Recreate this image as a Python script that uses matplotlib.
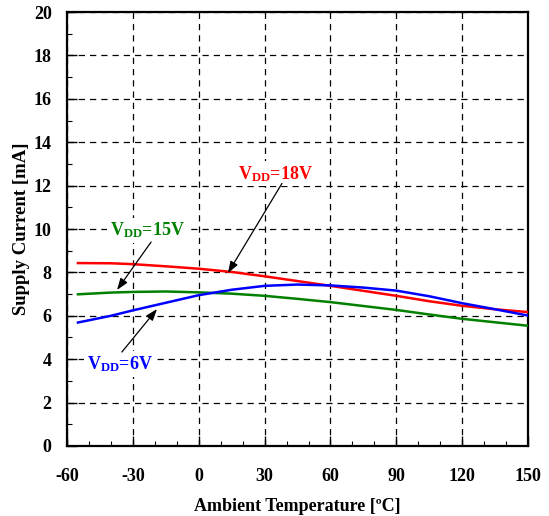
import numpy as np
import matplotlib.pyplot as plt
from matplotlib.ticker import MultipleLocator

# temperature [degC] and supply current [mA]
temp = [-55, -40, -30, -15, 0, 15, 30, 45, 60, 75, 90, 105, 120, 135, 150]
i_18v = [8.43, 8.42, 8.38, 8.28, 8.17, 8.02, 7.82, 7.60, 7.38, 7.15, 6.92, 6.67, 6.46, 6.30, 6.17]
i_15v = [6.99, 7.07, 7.10, 7.12, 7.08, 7.02, 6.92, 6.78, 6.63, 6.45, 6.27, 6.06, 5.86, 5.70, 5.54]
i_6v = [5.69, 6.00, 6.25, 6.60, 6.95, 7.20, 7.38, 7.44, 7.40, 7.30, 7.16, 6.90, 6.58, 6.30, 6.01]

xticks = [-60, -30, 0, 30, 60, 90, 120, 150]
yticks = [0, 2, 4, 6, 8, 10, 12, 14, 16, 18, 20]

plt.rcParams['font.family'] = ['Liberation Serif', 'DejaVu Serif']
plt.rcParams['font.weight'] = 'bold'
plt.rcParams['axes.unicode_minus'] = False
plt.rcParams['mathtext.fontset'] = 'custom'
plt.rcParams['mathtext.rm'] = 'Liberation Serif:bold'
plt.rcParams['mathtext.it'] = 'Liberation Serif:bold'
plt.rcParams['mathtext.bf'] = 'Liberation Serif:bold'

fig = plt.figure(figsize=(5.49, 5.16), dpi=100)
ax = fig.add_axes([0.122, 0.1357, 0.84, 0.841])

ax.plot(temp, i_18v, color='#ff0000', lw=1.8, zorder=3)
ax.plot(temp, i_15v, color='#008000', lw=1.8, zorder=3)
ax.plot(temp, i_6v, color='#0000ff', lw=1.8, zorder=3)

ax.set_xlim(-60, 150)
ax.set_ylim(0, 20)
ax.set_xticks(xticks)
ax.set_yticks(yticks)
ax.xaxis.set_minor_locator(MultipleLocator(10))
ax.yaxis.set_minor_locator(MultipleLocator(1))
ax.tick_params(which='major', direction='in', length=7, width=1, labelsize=13)
ax.tick_params(which='minor', direction='in', length=3.5, width=0.8)
ax.tick_params(axis='x', pad=16)
ax.tick_params(axis='y', pad=11)
for s in ax.spines.values():
    s.set_linewidth(1.6)

ax.grid(True, which='major', color='black', ls=(0, (5, 4)), lw=0.9, zorder=1)

ax.set_xlabel('Ambient Temperature [ºC]', fontsize=13, fontweight='bold', labelpad=9)
ax.set_ylabel('Supply Current [mA]', fontsize=13.5, fontweight='bold', labelpad=3)

box = dict(facecolor='white', edgecolor='none', pad=2)
arrow = dict(arrowstyle='-|>,head_length=0.7,head_width=0.25', color='black',
             lw=0.9, shrinkA=0, shrinkB=0, mutation_scale=10)

# labels
ax.text(35, 12.55, 'V$_{\\mathrm{DD}}$=18V', color='#ff0000', fontsize=13,
        ha='center', va='center', bbox=box, zorder=4)
ax.text(-23.3, 9.95, 'V$_{\\mathrm{DD}}$=15V', color='#008000', fontsize=13,
        ha='center', va='center', bbox=box, zorder=4)
ax.text(-36.1, 3.78, 'V$_{\\mathrm{DD}}$=6V', color='#0000ff', fontsize=13,
        ha='center', va='center', bbox=box, zorder=4)

# arrows
ax.annotate('', xy=(13.3, 7.97), xytext=(37.9, 12.1), arrowprops=arrow, zorder=4)
ax.annotate('', xy=(-37.2, 7.19), xytext=(-21.7, 9.4), arrowprops=arrow, zorder=4)
ax.annotate('', xy=(-19, 6.31), xytext=(-35, 4.33), arrowprops=arrow, zorder=4)

plt.savefig('out.png', dpi=100)
